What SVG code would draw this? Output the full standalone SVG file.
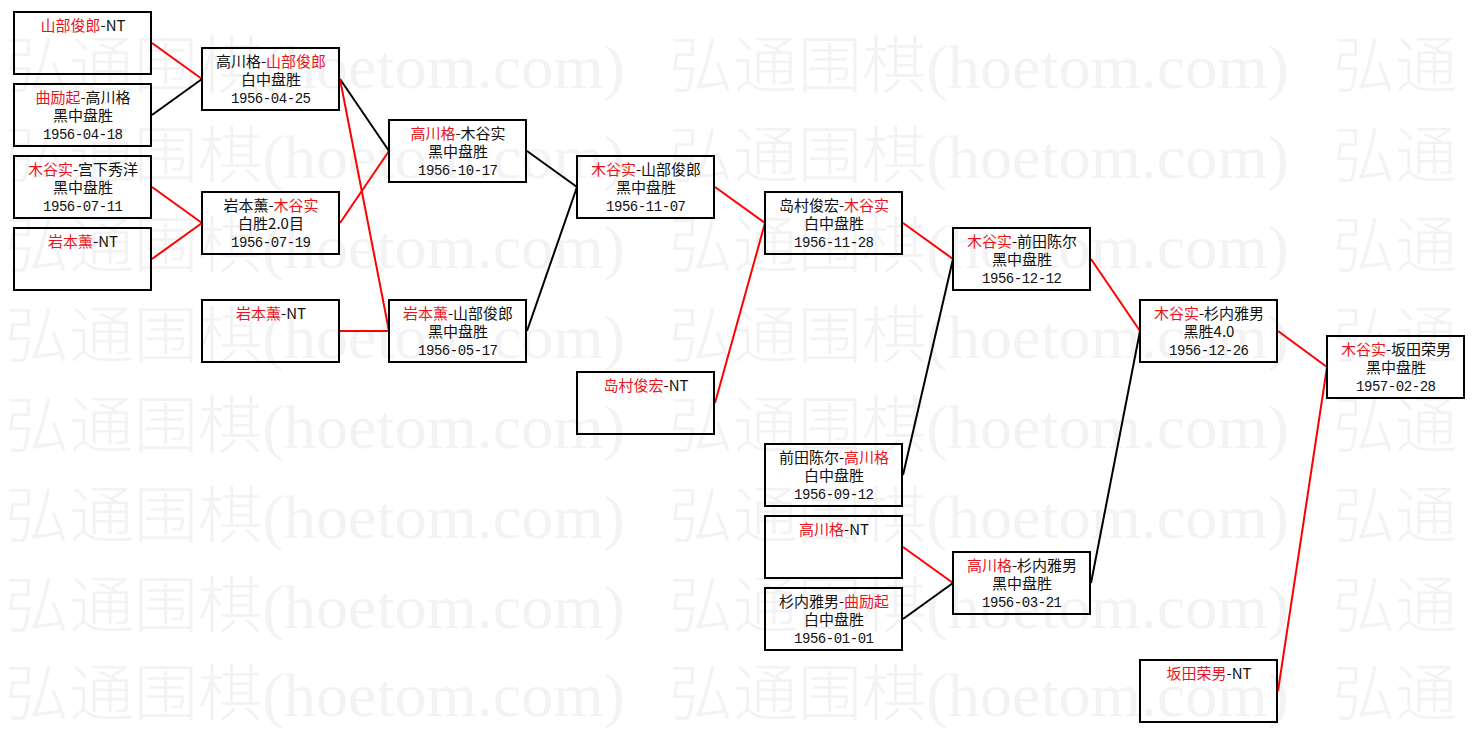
<svg xmlns="http://www.w3.org/2000/svg" width="1474" height="733" viewBox="0 0 1474 733">
<style>
.wm{font-family:"Liberation Serif","Noto Sans CJK SC",serif;font-size:62px;font-weight:300;fill:#f3f3f3}
.box{fill:none;stroke:#000;stroke-width:2}
.t{font-family:"Noto Sans CJK SC",sans-serif;font-size:15px;text-anchor:middle;fill:#111}
.d{font-family:"Liberation Mono","Noto Sans CJK SC",monospace;font-size:14px;text-anchor:middle;fill:#111}
.r{fill:#e8141c}
.lr{stroke:#f00;stroke-width:2;fill:none}
.lb{stroke:#000;stroke-width:2;fill:none}
</style>
<rect x="0" y="0" width="1474" height="733" fill="#fff"/>
<g id="watermark">
<text class="wm" x="5" y="88" textLength="620" lengthAdjust="spacingAndGlyphs">弘通围棋(hoetom.com)</text>
<text class="wm" x="669" y="88" textLength="620" lengthAdjust="spacingAndGlyphs">弘通围棋(hoetom.com)</text>
<text class="wm" x="1333" y="88" textLength="124" lengthAdjust="spacingAndGlyphs">弘通</text>
<text class="wm" x="5" y="178" textLength="620" lengthAdjust="spacingAndGlyphs">弘通围棋(hoetom.com)</text>
<text class="wm" x="669" y="178" textLength="620" lengthAdjust="spacingAndGlyphs">弘通围棋(hoetom.com)</text>
<text class="wm" x="1333" y="178" textLength="124" lengthAdjust="spacingAndGlyphs">弘通</text>
<text class="wm" x="5" y="268" textLength="620" lengthAdjust="spacingAndGlyphs">弘通围棋(hoetom.com)</text>
<text class="wm" x="669" y="268" textLength="620" lengthAdjust="spacingAndGlyphs">弘通围棋(hoetom.com)</text>
<text class="wm" x="1333" y="268" textLength="124" lengthAdjust="spacingAndGlyphs">弘通</text>
<text class="wm" x="5" y="358" textLength="620" lengthAdjust="spacingAndGlyphs">弘通围棋(hoetom.com)</text>
<text class="wm" x="669" y="358" textLength="620" lengthAdjust="spacingAndGlyphs">弘通围棋(hoetom.com)</text>
<text class="wm" x="1333" y="358" textLength="124" lengthAdjust="spacingAndGlyphs">弘通</text>
<text class="wm" x="5" y="448" textLength="620" lengthAdjust="spacingAndGlyphs">弘通围棋(hoetom.com)</text>
<text class="wm" x="669" y="448" textLength="620" lengthAdjust="spacingAndGlyphs">弘通围棋(hoetom.com)</text>
<text class="wm" x="1333" y="448" textLength="124" lengthAdjust="spacingAndGlyphs">弘通</text>
<text class="wm" x="5" y="538" textLength="620" lengthAdjust="spacingAndGlyphs">弘通围棋(hoetom.com)</text>
<text class="wm" x="669" y="538" textLength="620" lengthAdjust="spacingAndGlyphs">弘通围棋(hoetom.com)</text>
<text class="wm" x="1333" y="538" textLength="124" lengthAdjust="spacingAndGlyphs">弘通</text>
<text class="wm" x="5" y="628" textLength="620" lengthAdjust="spacingAndGlyphs">弘通围棋(hoetom.com)</text>
<text class="wm" x="669" y="628" textLength="620" lengthAdjust="spacingAndGlyphs">弘通围棋(hoetom.com)</text>
<text class="wm" x="1333" y="628" textLength="124" lengthAdjust="spacingAndGlyphs">弘通</text>
<text class="wm" x="5" y="716" textLength="620" lengthAdjust="spacingAndGlyphs">弘通围棋(hoetom.com)</text>
<text class="wm" x="669" y="716" textLength="620" lengthAdjust="spacingAndGlyphs">弘通围棋(hoetom.com)</text>
<text class="wm" x="1333" y="716" textLength="124" lengthAdjust="spacingAndGlyphs">弘通</text>
</g>
<g id="connectors">
<line class="lr" x1="152" y1="43" x2="202" y2="79"/>
<line class="lb" x1="152" y1="115" x2="202" y2="79"/>
<line class="lr" x1="152" y1="187" x2="202" y2="223"/>
<line class="lr" x1="152" y1="259" x2="202" y2="223"/>
<line class="lb" x1="340" y1="79" x2="389" y2="151"/>
<line class="lr" x1="340" y1="223" x2="389" y2="151"/>
<line class="lr" x1="340" y1="79" x2="389" y2="331"/>
<line class="lr" x1="340" y1="331" x2="389" y2="331"/>
<line class="lb" x1="527" y1="151" x2="577" y2="187"/>
<line class="lb" x1="527" y1="331" x2="577" y2="187"/>
<line class="lr" x1="715" y1="187" x2="765" y2="223"/>
<line class="lr" x1="715" y1="403" x2="765" y2="223"/>
<line class="lr" x1="903" y1="223" x2="953" y2="259"/>
<line class="lb" x1="903" y1="475" x2="953" y2="259"/>
<line class="lr" x1="903" y1="547" x2="953" y2="583"/>
<line class="lb" x1="903" y1="619" x2="953" y2="583"/>
<line class="lr" x1="1091" y1="259" x2="1140" y2="331"/>
<line class="lb" x1="1091" y1="583" x2="1140" y2="331"/>
<line class="lr" x1="1278" y1="331" x2="1327" y2="367"/>
<line class="lr" x1="1278" y1="691" x2="1327" y2="367"/>
</g>
<g id="nA1"><rect class="box" x="14" y="12" width="137" height="62"/><text class="t" x="83" y="31"><tspan class="r">山部俊郎</tspan>-NT</text></g>
<g id="nA2"><rect class="box" x="14" y="84" width="137" height="62"/><text class="t" x="83" y="103"><tspan class="r">曲励起</tspan>-高川格</text><text class="t" x="83" y="121">黑中盘胜</text><text class="d" x="83" y="139" textLength="80">1956-04-18</text></g>
<g id="nA3"><rect class="box" x="14" y="156" width="137" height="62"/><text class="t" x="83" y="175"><tspan class="r">木谷实</tspan>-宫下秀洋</text><text class="t" x="83" y="193">黑中盘胜</text><text class="d" x="83" y="211" textLength="80">1956-07-11</text></g>
<g id="nA4"><rect class="box" x="14" y="228" width="137" height="62"/><text class="t" x="83" y="247"><tspan class="r">岩本薰</tspan>-NT</text></g>
<g id="nB1"><rect class="box" x="202" y="48" width="137" height="62"/><text class="t" x="271" y="67">高川格-<tspan class="r">山部俊郎</tspan></text><text class="t" x="271" y="85">白中盘胜</text><text class="d" x="271" y="103" textLength="80">1956-04-25</text></g>
<g id="nB2"><rect class="box" x="202" y="192" width="137" height="62"/><text class="t" x="271" y="211">岩本薰-<tspan class="r">木谷实</tspan></text><text class="t" x="271" y="229">白胜2.0目</text><text class="d" x="271" y="247" textLength="80">1956-07-19</text></g>
<g id="nB3"><rect class="box" x="202" y="300" width="137" height="62"/><text class="t" x="271" y="319"><tspan class="r">岩本薰</tspan>-NT</text></g>
<g id="nC1"><rect class="box" x="389" y="120" width="137" height="62"/><text class="t" x="458" y="139"><tspan class="r">高川格</tspan>-木谷实</text><text class="t" x="458" y="157">黑中盘胜</text><text class="d" x="458" y="175" textLength="80">1956-10-17</text></g>
<g id="nC2"><rect class="box" x="389" y="300" width="137" height="62"/><text class="t" x="458" y="319"><tspan class="r">岩本薰</tspan>-山部俊郎</text><text class="t" x="458" y="337">黑中盘胜</text><text class="d" x="458" y="355" textLength="80">1956-05-17</text></g>
<g id="nD1"><rect class="box" x="577" y="156" width="137" height="62"/><text class="t" x="646" y="175"><tspan class="r">木谷实</tspan>-山部俊郎</text><text class="t" x="646" y="193">黑中盘胜</text><text class="d" x="646" y="211" textLength="80">1956-11-07</text></g>
<g id="nD2"><rect class="box" x="577" y="372" width="137" height="62"/><text class="t" x="646" y="391"><tspan class="r">岛村俊宏</tspan>-NT</text></g>
<g id="nE1"><rect class="box" x="765" y="192" width="137" height="62"/><text class="t" x="834" y="211">岛村俊宏-<tspan class="r">木谷实</tspan></text><text class="t" x="834" y="229">白中盘胜</text><text class="d" x="834" y="247" textLength="80">1956-11-28</text></g>
<g id="nE2"><rect class="box" x="765" y="444" width="137" height="62"/><text class="t" x="834" y="463">前田陈尔-<tspan class="r">高川格</tspan></text><text class="t" x="834" y="481">白中盘胜</text><text class="d" x="834" y="499" textLength="80">1956-09-12</text></g>
<g id="nE3"><rect class="box" x="765" y="516" width="137" height="62"/><text class="t" x="834" y="535"><tspan class="r">高川格</tspan>-NT</text></g>
<g id="nE4"><rect class="box" x="765" y="588" width="137" height="62"/><text class="t" x="834" y="607">杉内雅男-<tspan class="r">曲励起</tspan></text><text class="t" x="834" y="625">白中盘胜</text><text class="d" x="834" y="643" textLength="80">1956-01-01</text></g>
<g id="nF1"><rect class="box" x="953" y="228" width="137" height="62"/><text class="t" x="1022" y="247"><tspan class="r">木谷实</tspan>-前田陈尔</text><text class="t" x="1022" y="265">黑中盘胜</text><text class="d" x="1022" y="283" textLength="80">1956-12-12</text></g>
<g id="nF2"><rect class="box" x="953" y="552" width="137" height="62"/><text class="t" x="1022" y="571"><tspan class="r">高川格</tspan>-杉内雅男</text><text class="t" x="1022" y="589">黑中盘胜</text><text class="d" x="1022" y="607" textLength="80">1956-03-21</text></g>
<g id="nG1"><rect class="box" x="1140" y="300" width="137" height="62"/><text class="t" x="1209" y="319"><tspan class="r">木谷实</tspan>-杉内雅男</text><text class="t" x="1209" y="337">黑胜4.0</text><text class="d" x="1209" y="355" textLength="80">1956-12-26</text></g>
<g id="nG2"><rect class="box" x="1140" y="660" width="137" height="62"/><text class="t" x="1209" y="679"><tspan class="r">坂田荣男</tspan>-NT</text></g>
<g id="nH1"><rect class="box" x="1327" y="336" width="137" height="62"/><text class="t" x="1396" y="355"><tspan class="r">木谷实</tspan>-坂田荣男</text><text class="t" x="1396" y="373">黑中盘胜</text><text class="d" x="1396" y="391" textLength="80">1957-02-28</text></g>
</svg>
